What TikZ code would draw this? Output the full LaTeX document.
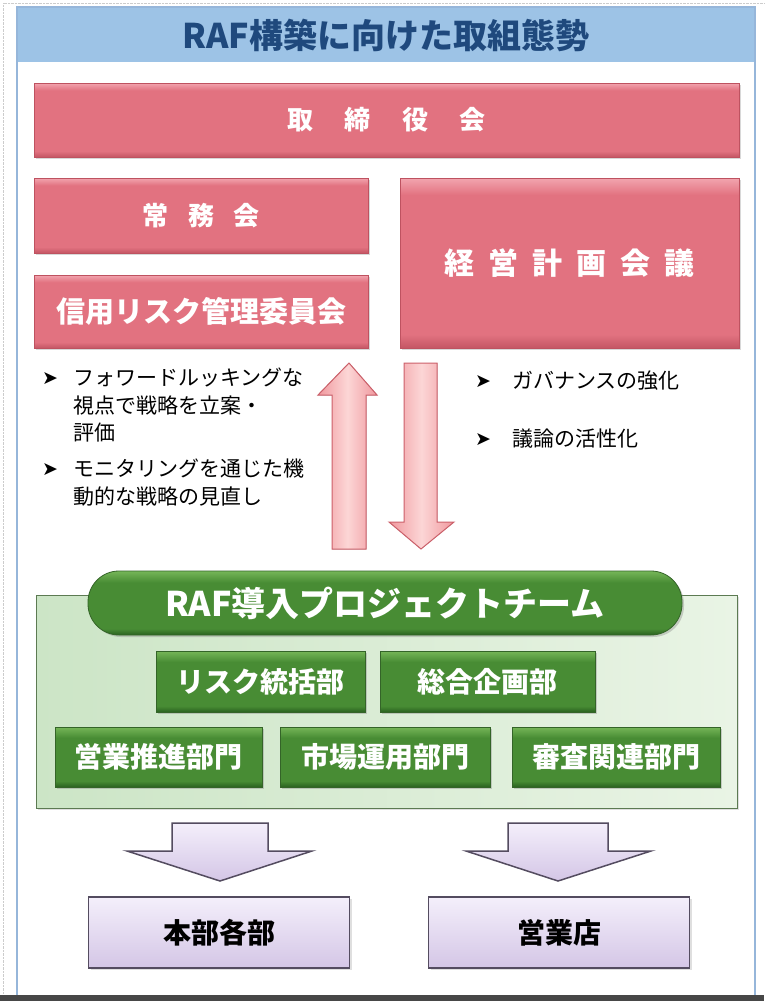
\documentclass[tikz,border=0pt]{standalone}
\usepackage{fontspec}
\setmainfont{Noto Sans CJK JP}
\newfontfamily\symfont{DejaVu Sans}
\usepackage{tikz}
\usetikzlibrary{shadows}

\definecolor{titleblue}{RGB}{157,195,230}
\definecolor{titletext}{RGB}{31,73,125}
\definecolor{framebl}{RGB}{150,182,218}
\definecolor{redtop}{RGB}{242,165,175}
\definecolor{redmid}{RGB}{226,114,128}
\definecolor{redbot}{RGB}{196,86,100}
\definecolor{redline}{RGB}{190,82,96}
\definecolor{greentop}{RGB}{118,182,88}
\definecolor{greenmid}{RGB}{72,140,52}
\definecolor{greenbot}{RGB}{42,98,32}
\definecolor{greenline}{RGB}{52,100,40}
\definecolor{teamA}{RGB}{204,229,198}
\definecolor{teamB}{RGB}{233,244,229}
\definecolor{teamline}{RGB}{92,122,82}
\definecolor{pinkfill}{RGB}{252,214,214}
\definecolor{pinkedge}{RGB}{240,152,158}
\definecolor{pinkline}{RGB}{204,96,106}
\definecolor{lavtop}{RGB}{244,239,251}
\definecolor{lavbot}{RGB}{212,198,230}
\definecolor{lavline}{RGB}{84,76,96}

\pgfdeclareverticalshading{redbevel}{100bp}{color(0bp)=(redbot); color(25bp)=(redbot); color(29bp)=(redmid); color(70bp)=(redmid); color(75bp)=(redtop); color(100bp)=(redtop)}
\pgfdeclareverticalshading{greenbevel}{100bp}{color(0bp)=(greenbot); color(25bp)=(greenbot); color(30bp)=(greenmid); color(66bp)=(greenmid); color(75bp)=(greentop); color(100bp)=(greentop)}

\begin{document}
\begin{tikzpicture}[x=1pt,y=-1pt]
\tikzstyle{every node}=[inner sep=0pt]
\tikzstyle{redbox}=[draw=redline, line width=0.8pt, shading=redbevel, text=white, drop shadow={opacity=0.3, shadow xshift=2pt, shadow yshift=-2pt}]
\tikzstyle{greenbox}=[draw=greenline, line width=0.8pt, shading=greenbevel, text=white, font=\fontsize{28}{32}\selectfont\bfseries, minimum height=61pt, drop shadow={opacity=0.35, shadow xshift=2pt, shadow yshift=-2pt}]
\tikzstyle{lavbox}=[draw=lavline, line width=1.5pt, top color=lavtop, bottom color=lavbot, text=black, font=\fontsize{28}{32}\selectfont\bfseries, minimum width=261pt, minimum height=71pt, drop shadow={opacity=0.25, shadow xshift=2pt, shadow yshift=-2pt}]
\tikzstyle{pinkarrow}=[draw=pinkline, line width=1pt, left color=pinkedge, right color=pinkedge, middle color=pinkfill]
\tikzstyle{lavarrow}=[draw=lavline, line width=1.5pt, top color=lavtop, bottom color=lavbot]
\tikzstyle{bulletsym}=[font=\symfont\fontsize{19}{19}\selectfont]
\tikzstyle{bullettext}=[anchor=north west, align=left, font=\fontsize{21}{27.5}\selectfont]

\useasboundingbox (0,0) rectangle (764,1001);
\fill[white] (0,0) rectangle (764,1001);
\draw[densely dotted, gray!40] (3,995) -- (3,3) -- (764,3);
\fill[black!72] (0,995) rectangle (764,1001);

% frame and title
\fill[titleblue] (17,7) rectangle (755,62);
\draw[framebl, line width=1.5pt] (17,995) -- (17,7) -- (755,7) -- (755,995);
\node[font=\fontsize{34}{38}\selectfont\bfseries, text=titletext] (title) at (386,35) {RAF構築に向けた取組態勢};

% committees
\node[redbox, minimum width=705pt, minimum height=74pt, font=\fontsize{26}{30}\selectfont\bfseries] (board) at (386.5,120) {取\hspace{1.2em}締\hspace{1.2em}役\hspace{1.2em}会};
\node[redbox, minimum width=334pt, minimum height=75pt, font=\fontsize{26}{30}\selectfont\bfseries] (jomu) at (201,215.5) {常\hspace{0.75em}務\hspace{0.75em}会};
\node[redbox, minimum width=334pt, minimum height=73pt, font=\fontsize{29}{32}\selectfont\bfseries] (credit) at (201,311.5) {信用リスク管理委員会};
\node[redbox, minimum width=339pt, minimum height=170pt, font=\fontsize{30}{34}\selectfont\bfseries] (plan) at (569.5,263) {経\hspace{0.47em}営\hspace{0.47em}計\hspace{0.47em}画\hspace{0.47em}会\hspace{0.47em}議};

% bullets
\node[bulletsym] (m1) at (50,379) {➤};
\node[bullettext] (b1) at (73,368) {フォワードルッキングな\\視点で戦略を立案・\\評価};
\node[bulletsym] (m2) at (50,470) {➤};
\node[bullettext] (b2) at (73,459) {モニタリングを通じた機\\動的な戦略の見直し};
\node[bulletsym] (m3) at (483,382) {➤};
\node[bullettext] (b3) at (512,371) {ガバナンスの強化};
\node[bulletsym] (m4) at (483,440) {➤};
\node[bullettext] (b4) at (512,429) {議論の活性化};

% up and down arrows
\filldraw[pinkarrow] (332,549) -- (332,395) -- (318,395) -- (349,363) -- (377,395) -- (366,395) -- (366,549) -- cycle;
\filldraw[pinkarrow] (404,363) -- (437,363) -- (437,522) -- (454,522) -- (421,549) -- (389,522) -- (404,522) -- cycle;

% project team
\node[draw=teamline, line width=1pt, left color=teamA, right color=teamB, minimum width=701pt, minimum height=213pt, drop shadow={opacity=0.25, shadow xshift=2pt, shadow yshift=-2pt}] (team) at (386.5,701.5) {};
\node[draw=greenline, line width=0.8pt, shading=greenbevel, rounded corners=31pt, minimum width=594pt, minimum height=64pt, text=white, font=\fontsize{34}{38}\selectfont\bfseries, drop shadow={opacity=0.35, shadow xshift=2pt, shadow yshift=-2pt}] (teamhead) at (385,603) {RAF導入プロジェクトチーム};
\node[greenbox, minimum width=209pt] (risk) at (260.5,681.5) {リスク統括部};
\node[greenbox, minimum width=215pt] (corp) at (487.5,681.5) {総合企画部};
\node[greenbox, minimum width=207pt, minimum height=60pt] (sales) at (158.5,757) {営業推進部門};
\node[greenbox, minimum width=210pt, minimum height=60pt] (market) at (385,757) {市場運用部門};
\node[greenbox, minimum width=208pt, minimum height=60pt] (review) at (616,757) {審査関連部門};

% arrows to the units
\filldraw[lavarrow] (172,823) -- (268,823) -- (268,851) -- (312,851) -- (220,881) -- (127,851) -- (172,851) -- cycle;
\filldraw[lavarrow] (508,823) -- (608,823) -- (608,851) -- (651,851) -- (558,881) -- (466,851) -- (508,851) -- cycle;

\node[lavbox] (hq) at (219,932.5) {本部各部};
\node[lavbox] (branch) at (559,932.5) {営業店};
\end{tikzpicture}
\end{document}
